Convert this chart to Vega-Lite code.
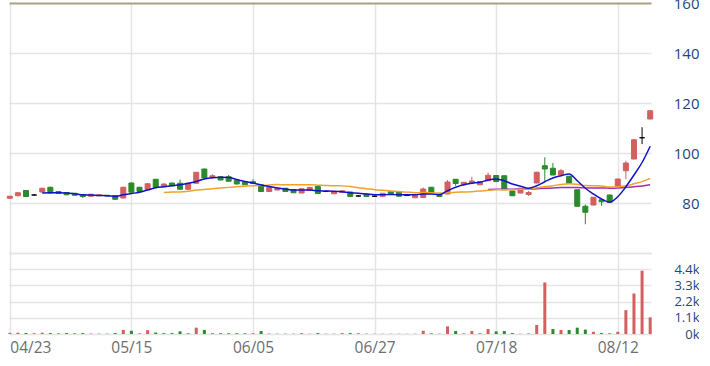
{
  "$schema": "https://vega.github.io/schema/vega-lite/v6.json",
  "padding": {"left": 6, "top": -4, "right": 0, "bottom": 0},
  "spacing": 0,
  "config": {
    "view": {"stroke": null},
    "axis": {"labelFont": "Open Sans", "labelFontSize": 14, "gridColor": "#e4e4e4", "gridWidth": 1.5}
  },
  "datasets": {
    "k": [
      {"d":"04/23","o":81.9,"h":82.9,"l":81.6,"c":82.7,"v":80,"t":"up"},
      {"d":"04/24","o":82.9,"h":84.3,"l":82.7,"c":84.1,"v":90,"t":"up"},
      {"d":"04/25","o":85.0,"h":85.2,"l":82.4,"c":82.6,"v":70,"t":"down"},
      {"d":"04/26","o":83.2,"h":83.6,"l":83.0,"c":83.2,"v":50,"t":"up"},
      {"d":"04/29","o":84.4,"h":86.1,"l":84.2,"c":85.9,"v":90,"t":"up","m5":84.0},
      {"d":"04/30","o":86.3,"h":86.5,"l":83.8,"c":84.0,"v":60,"t":"down","m5":84.1},
      {"d":"05/02","o":84.6,"h":84.8,"l":83.6,"c":83.8,"v":40,"t":"down","m5":84.1},
      {"d":"05/03","o":84.2,"h":84.3,"l":83.1,"c":83.3,"v":60,"t":"down","m5":84.0},
      {"d":"05/06","o":83.9,"h":84.0,"l":83.0,"c":83.1,"v":40,"t":"down","m5":83.7},
      {"d":"05/07","o":83.4,"h":83.5,"l":82.0,"c":82.6,"v":60,"t":"down","m5":83.3},
      {"d":"05/08","o":82.7,"h":83.7,"l":82.6,"c":83.5,"v":30,"t":"up","m5":83.2},
      {"d":"05/09","o":82.9,"h":83.5,"l":82.8,"c":83.3,"v":20,"t":"down","m5":83.0},
      {"d":"05/10","o":83.1,"h":83.2,"l":82.7,"c":82.8,"v":20,"t":"down","m5":82.9},
      {"d":"05/13","o":83.0,"h":83.1,"l":81.3,"c":81.5,"v":60,"t":"down","m5":82.6},
      {"d":"05/14","o":82.0,"h":86.5,"l":81.9,"c":86.3,"v":280,"t":"up","m5":83.3},
      {"d":"05/15","o":88.0,"h":88.2,"l":84.1,"c":84.3,"v":220,"t":"down","m5":83.8},
      {"d":"05/16","o":86.3,"h":86.4,"l":84.4,"c":84.6,"v":40,"t":"up","m5":84.3},
      {"d":"05/17","o":85.3,"h":88.0,"l":85.2,"c":87.7,"v":260,"t":"up","m5":85.2},
      {"d":"05/20","o":89.5,"h":89.6,"l":86.2,"c":86.3,"v":100,"t":"down","m5":86.1},
      {"d":"05/21","o":86.5,"h":87.8,"l":86.4,"c":87.6,"v":70,"t":"up","m5":86.5,"m20":84.16},
      {"d":"05/22","o":88.0,"h":88.1,"l":86.8,"c":86.9,"v":60,"t":"down","m5":86.9,"m20":84.37},
      {"d":"05/23","o":87.9,"h":89.4,"l":85.4,"c":85.5,"v":180,"t":"down","m5":87.3,"m20":84.44},
      {"d":"05/24","o":85.5,"h":88.0,"l":85.3,"c":87.9,"v":60,"t":"up","m5":87.9,"m20":84.71},
      {"d":"05/27","o":87.9,"h":92.4,"l":87.8,"c":92.3,"v":430,"t":"up","m5":88.6,"m20":85.16},
      {"d":"05/28","o":93.6,"h":93.7,"l":89.9,"c":90.0,"v":280,"t":"down","m5":89.6,"m20":85.37},
      {"d":"05/29","o":90.2,"h":91.5,"l":89.6,"c":90.9,"v":60,"t":"up","m5":90.1,"m20":85.71},
      {"d":"05/30","o":90.5,"h":90.6,"l":89.1,"c":89.2,"v":50,"t":"down","m5":90.3,"m20":85.98},
      {"d":"05/31","o":90.5,"h":91.2,"l":88.6,"c":88.7,"v":50,"t":"down","m5":90.2,"m20":86.25},
      {"d":"06/03","o":89.1,"h":89.2,"l":87.5,"c":87.6,"v":50,"t":"down","m5":89.4,"m20":86.48},
      {"d":"06/04","o":88.3,"h":88.4,"l":87.2,"c":87.3,"v":40,"t":"down","m5":88.6,"m20":86.71},
      {"d":"06/05","o":88.5,"h":89.5,"l":87.7,"c":87.8,"v":50,"t":"up","m5":88.0,"m20":86.93},
      {"d":"06/06","o":87.3,"h":87.4,"l":84.5,"c":84.6,"v":200,"t":"down","m5":87.2,"m20":86.99},
      {"d":"06/07","o":84.6,"h":86.4,"l":84.5,"c":86.3,"v":30,"t":"up","m5":86.6,"m20":87.17},
      {"d":"06/11","o":85.2,"h":86.0,"l":85.1,"c":85.8,"v":20,"t":"down","m5":86.0,"m20":87.38},
      {"d":"06/12","o":85.9,"h":86.0,"l":84.5,"c":84.6,"v":20,"t":"down","m5":85.6,"m20":87.30},
      {"d":"06/13","o":85.4,"h":85.5,"l":84.0,"c":84.1,"v":20,"t":"down","m5":85.2,"m20":87.29},
      {"d":"06/14","o":84.0,"h":85.9,"l":83.9,"c":85.7,"v":60,"t":"up","m5":85.2,"m20":87.34},
      {"d":"06/17","o":85.0,"h":86.5,"l":84.9,"c":86.2,"v":20,"t":"up","m5":85.2,"m20":87.27},
      {"d":"06/18","o":86.6,"h":86.8,"l":83.7,"c":83.8,"v":60,"t":"down","m5":84.9,"m20":87.14},
      {"d":"06/19","o":84.6,"h":85.0,"l":84.4,"c":84.6,"v":20,"t":"up","m5":84.8,"m20":86.99},
      {"d":"06/20","o":83.7,"h":84.8,"l":83.6,"c":84.6,"v":20,"t":"up","m5":84.7,"m20":86.88},
      {"d":"06/21","o":84.3,"h":85.0,"l":84.2,"c":84.9,"v":60,"t":"up","m5":84.5,"m20":86.85},
      {"d":"06/24","o":84.4,"h":84.5,"l":82.5,"c":82.6,"v":60,"t":"down","m5":84.1,"m20":86.58},
      {"d":"06/25","o":82.8,"h":83.2,"l":82.6,"c":82.8,"v":50,"t":"up","m5":83.9,"m20":86.11},
      {"d":"06/26","o":83.6,"h":83.7,"l":82.5,"c":82.6,"v":20,"t":"down","m5":83.6,"m20":85.74},
      {"d":"06/27","o":82.7,"h":83.0,"l":82.5,"c":82.7,"v":15,"t":"up","m5":83.3,"m20":85.33},
      {"d":"06/28","o":82.7,"h":84.0,"l":82.6,"c":83.9,"v":15,"t":"up","m5":83.3,"m20":85.06},
      {"d":"07/01","o":84.5,"h":84.6,"l":83.5,"c":83.6,"v":15,"t":"down","m5":83.4,"m20":84.81},
      {"d":"07/02","o":84.4,"h":84.5,"l":82.6,"c":82.7,"v":15,"t":"down","m5":83.3,"m20":84.56},
      {"d":"07/03","o":83.0,"h":83.3,"l":82.8,"c":83.0,"v":15,"t":"up","m5":83.3,"m20":84.35},
      {"d":"07/04","o":82.1,"h":83.3,"l":82.0,"c":83.2,"v":20,"t":"up","m5":83.3,"m20":84.12},
      {"d":"07/05","o":82.2,"h":86.2,"l":82.1,"c":85.6,"v":220,"t":"up","m5":83.6,"m20":84.17},
      {"d":"07/08","o":86.3,"h":86.4,"l":84.2,"c":84.3,"v":40,"t":"down","m5":83.6,"m20":84.07},
      {"d":"07/09","o":83.9,"h":84.0,"l":82.5,"c":82.6,"v":20,"t":"down","m5":83.3,"m20":83.91},
      {"d":"07/10","o":83.6,"h":89.2,"l":83.5,"c":88.4,"v":520,"t":"up","m5":84.9,"m20":84.10},
      {"d":"07/11","o":89.5,"h":89.6,"l":86.9,"c":87.8,"v":200,"t":"down","m5":86.3,"m20":84.28},
      {"d":"07/12","o":87.3,"h":88.4,"l":86.8,"c":88.3,"v":40,"t":"up","m5":87.3,"m20":84.41},
      {"d":"07/15","o":88.0,"h":90.5,"l":87.8,"c":88.8,"v":200,"t":"up","m5":87.9,"m20":84.54},
      {"d":"07/16","o":87.3,"h":88.8,"l":87.1,"c":88.6,"v":40,"t":"down","m5":88.3,"m20":84.78},
      {"d":"07/17","o":88.9,"h":92.2,"l":88.8,"c":91.1,"v":340,"t":"up","m5":89.2,"m20":85.11,"m60":85.42},
      {"d":"07/18","o":91.0,"h":91.1,"l":88.3,"c":88.6,"v":180,"t":"down","m5":89.6,"m20":85.31,"m60":85.52},
      {"d":"07/19","o":90.9,"h":91.0,"l":85.2,"c":85.3,"v":200,"t":"down","m5":88.9,"m20":85.33,"m60":85.54},
      {"d":"07/22","o":84.8,"h":84.9,"l":82.8,"c":82.9,"v":60,"t":"down","m5":87.6,"m20":85.34,"m60":85.54},
      {"d":"07/23","o":84.0,"h":86.0,"l":83.9,"c":85.9,"v":20,"t":"up","m5":86.7,"m20":85.50,"m60":85.59},
      {"d":"07/26","o":83.4,"h":84.8,"l":82.8,"c":84.2,"v":30,"t":"down","m5":85.9,"m20":85.58,"m60":85.56},
      {"d":"07/29","o":88.0,"h":92.5,"l":87.9,"c":92.3,"v":610,"t":"up","m5":86.9,"m20":86.06,"m60":85.70},
      {"d":"07/30","o":94.9,"h":98.3,"l":88.9,"c":93.6,"v":3500,"t":"up","m5":88.5,"m20":86.54,"m60":85.86},
      {"d":"07/31","o":93.9,"h":96.0,"l":91.1,"c":91.2,"v":340,"t":"down","m5":90.0,"m20":86.92,"m60":85.99},
      {"d":"08/01","o":91.2,"h":93.6,"l":91.1,"c":92.9,"v":270,"t":"up","m5":90.9,"m20":87.43,"m60":86.16},
      {"d":"08/02","o":90.7,"h":90.8,"l":87.9,"c":88.0,"v":270,"t":"down","m5":91.6,"m20":87.68,"m60":86.25},
      {"d":"08/05","o":85.3,"h":85.4,"l":78.6,"c":78.7,"v":430,"t":"down","m5":88.9,"m20":87.46,"m60":86.17},
      {"d":"08/06","o":78.7,"h":79.4,"l":71.5,"c":76.3,"v":300,"t":"down","m5":85.9,"m20":86.99,"m60":86.05},
      {"d":"08/07","o":79.2,"h":82.4,"l":79.1,"c":82.3,"v":150,"t":"up","m5":83.6,"m20":86.89,"m60":86.04},
      {"d":"08/08","o":81.3,"h":81.4,"l":78.9,"c":80.5,"v":60,"t":"down","m5":81.6,"m20":86.79,"m60":86.02},
      {"d":"08/09","o":83.2,"h":83.3,"l":80.2,"c":80.3,"v":40,"t":"down","m5":80.3,"m20":86.38,"m60":85.92},
      {"d":"08/12","o":86.7,"h":89.7,"l":86.6,"c":89.6,"v":150,"t":"up","m5":82.5,"m20":86.47,"m60":86.01},
      {"d":"08/13","o":92.9,"h":96.9,"l":89.6,"c":96.0,"v":1620,"t":"up","m5":86.5,"m20":86.86,"m60":86.20},
      {"d":"08/14","o":97.6,"h":105.5,"l":97.5,"c":105.3,"v":2750,"t":"up","m5":91.2,"m20":87.68,"m60":86.50},
      {"d":"08/15","o":106.1,"h":110.3,"l":103.6,"c":106.1,"v":4300,"t":"up","m5":96.2,"m20":88.56,"m60":86.83},
      {"d":"08/16","o":113.6,"h":117.0,"l":113.5,"c":116.9,"v":1130,"t":"up","m5":102.7,"m20":89.85,"m60":87.31}
    ]
  },
  "vconcat": [
    {
      "width": 642,
      "height": 250,
      "data": {"name": "k"},
      "layer": [
        {
          "mark": {"type": "rule", "strokeWidth": 1},
          "encoding": {
            "x": {"field": "d", "type": "ordinal", "sort": null, "scale": {"type": "point", "padding": 0.1},
              "axis": {"values": ["04/23","05/15","06/05","06/27","07/18","08/12"], "labels": false, "ticks": false, "domain": false, "grid": true, "title": null}},
            "y": {"field": "l", "type": "quantitative", "scale": {"domain": [60, 160], "nice": false, "zero": false},
              "axis": {"orient": "right", "values": [60, 80, 100, 120, 140, 160], "title": null, "domain": false, "ticks": false, "tickSize": 0,
                "labelAlign": "right", "labelPadding": 48, "labelColor": "#23467a", "labelFontSize": 15,
                "labelExpr": "datum.value == 60 ? '' : datum.label",
                "gridColor": {"condition": {"test": "datum.value == 160", "value": "#a8a283"}, "value": "#e4e4e4"},
                "gridWidth": {"condition": {"test": "datum.value == 160", "value": 2}, "value": 1.5}}},
            "y2": {"field": "h"},
            "color": {"condition": [{"test": "datum.c > datum.o", "value": "#d45f5f"}, {"test": "datum.c < datum.o", "value": "#2b8a2b"}], "value": "#000000"}
          }
        },
        {
          "mark": {"type": "bar", "size": 5, "strokeWidth": 1},
          "encoding": {
            "x": {"field": "d", "type": "ordinal", "sort": null, "axis": {"title": null}},
            "y": {"field": "o", "type": "quantitative", "axis": {"title": null}},
            "y2": {"field": "c"},
            "color": {"condition": [{"test": "datum.c > datum.o", "value": "#d45f5f"}, {"test": "datum.c < datum.o", "value": "#2b8a2b"}], "value": "#000000"},
            "stroke": {"condition": [{"test": "datum.c > datum.o", "value": "#d45f5f"}, {"test": "datum.c < datum.o", "value": "#2b8a2b"}], "value": "#000000"}
          }
        },
        {
          "mark": {"type": "line", "color": "#9c2fb3", "strokeWidth": 1.5, "interpolate": "monotone"},
          "encoding": {
            "x": {"field": "d", "type": "ordinal", "sort": null, "axis": {"title": null}},
            "y": {"field": "m60", "type": "quantitative", "axis": {"title": null}}
          }
        },
        {
          "mark": {"type": "line", "color": "#f0a12a", "strokeWidth": 1.5, "interpolate": "monotone"},
          "encoding": {
            "x": {"field": "d", "type": "ordinal", "sort": null, "axis": {"title": null}},
            "y": {"field": "m20", "type": "quantitative", "axis": {"title": null}}
          }
        },
        {
          "mark": {"type": "line", "color": "#1212c8", "strokeWidth": 1.5, "interpolate": "monotone"},
          "encoding": {
            "x": {"field": "d", "type": "ordinal", "sort": null, "axis": {"title": null}},
            "y": {"field": "m5", "type": "quantitative", "axis": {"title": null}}
          }
        }
      ]
    },
    {
      "width": 642,
      "height": 81,
      "data": {"name": "k"},
      "mark": {"type": "bar", "size": 3},
      "encoding": {
        "x": {"field": "d", "type": "ordinal", "sort": null, "scale": {"type": "point", "padding": 0.1},
          "axis": {"values": ["04/23","05/15","06/05","06/27","07/18","08/12"], "labelAngle": 0, "labelFlush": 5, "labelPadding": 6, "labelColor": "#6e6e6e", "labelFontSize": 15.5, "ticks": false, "domain": false, "grid": true, "title": null}},
        "y": {"field": "v", "type": "quantitative", "scale": {"domain": [0, 5500], "nice": false},
          "axis": {"orient": "right", "values": [0, 1100, 2200, 3300, 4400, 5500], "title": null, "domain": false, "ticks": false, "tickSize": 0,
            "labelAlign": "right", "labelPadding": 48, "labelColor": "#23467a", "labelFontSize": 13,
            "labelExpr": "datum.value == 5500 ? '' : (datum.value / 1000) + 'k'"}},
        "color": {"condition": {"test": "datum.t == 'up'", "value": "#d45f5f"}, "value": "#2b8a2b"}
      }
    }
  ]
}
